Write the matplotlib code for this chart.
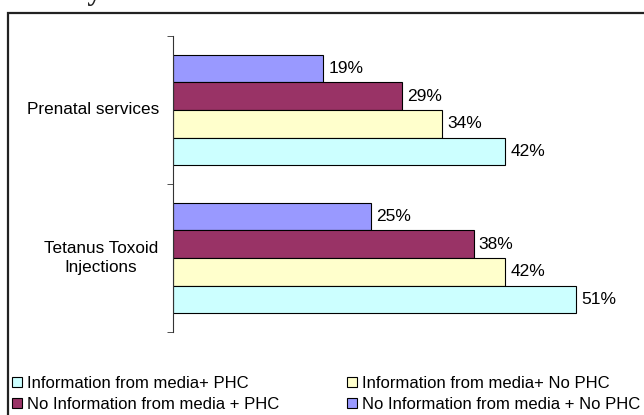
import numpy as np
import matplotlib.pyplot as plt
from matplotlib.patches import Rectangle

plt.rcParams['font.family'] = ['Liberation Sans', 'DejaVu Sans']

categories = ['Prenatal services', 'Tetanus Toxoid\nInjections']
series_names = ['No Information from media + No PHC',
                'No Information from media + PHC',
                'Information from media+ No PHC',
                'Information from media+ PHC']
no_info_no_phc = [19, 25]
no_info_phc = [29, 38]
info_no_phc = [34, 42]
info_phc = [42, 51]
series_values = [no_info_no_phc, no_info_phc, info_no_phc, info_phc]
colors = ['#9999FF', '#993366', '#FFFFCC', '#CCFFFF']

fig = plt.figure(figsize=(6.44, 4.15), dpi=100)
ax = fig.add_axes([0.2686, 0.2, 0.70, 0.7133])

# outer chart frame, runs off the right and bottom edges
fig.patches.append(Rectangle((8 / 644, -0.05), 1.0, 1 - 13 / 415 + 0.05,
                             transform=fig.transFigure, fill=False,
                             edgecolor='#222222', linewidth=1.6))

# title, mostly cut off at the top
fig.text(0.52, 1.0 + 0.5 / 415, 'Primary Health Center Use: Maternal Health Services',
         ha='center', va='baseline', fontsize=21, fontweight='bold',
         family='Liberation Serif', color='#222222')

y = np.arange(len(categories))
h = 0.187
bars = []
for i, (vals, c) in enumerate(zip(series_values, colors)):
    off = (i - 1.5) * h
    b = ax.barh(y + off, vals, height=h, color=c, edgecolor='black', linewidth=0.8)
    bars.append(b)
    for yy, v in zip(y + off, vals):
        ax.text(v + 0.65, yy, f'{v}%', va='center', ha='left', fontsize=12.5)

ax.set_xlim(0, 57)
ax.set_ylim(1.5, -0.5)
for s in ['top', 'right', 'bottom']:
    ax.spines[s].set_visible(False)
ax.spines['left'].set_color('#333333')
ax.set_xticks([])
ax.set_yticks([])
ax.set_yticks([-0.5, 0.5, 1.5], minor=True)
ax.tick_params(axis='y', which='minor', length=4, color='#333333')

# category labels left of the axis
label_x = [-0.177, -0.160]
for lx, yy, name in zip(label_x, y, categories):
    ax.text(lx, yy, name, transform=ax.get_yaxis_transform(), ha='center',
            va='center', multialignment='center', fontsize=12.3, linespacing=1.4)

handles = [bars[3], bars[1], bars[2], bars[0]]
labels = [series_names[3], series_names[1], series_names[2], series_names[0]]
fig.legend(handles, labels, loc='lower left', bbox_to_anchor=(-0.004, -0.028),
           ncol=2, frameon=False, fontsize=12.0, handlelength=0.56, handleheight=0.56,
           handletextpad=0.3, columnspacing=4.1, labelspacing=0.34)

fig.savefig('out.png', dpi=100)
